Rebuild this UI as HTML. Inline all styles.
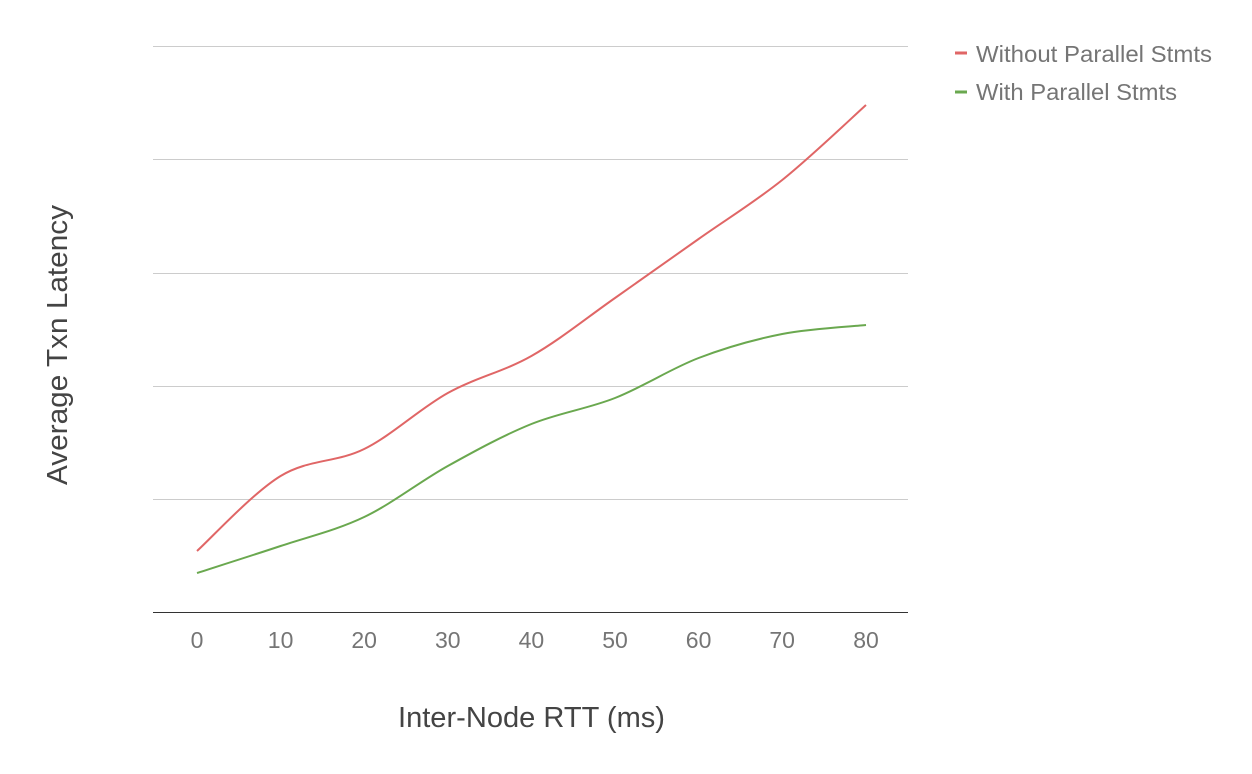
<!DOCTYPE html>
<html><head><meta charset="utf-8"><style>
html,body{margin:0;padding:0;background:#fff;width:1252px;height:774px;overflow:hidden}
svg{display:block}
text{font-family:"Liberation Sans",sans-serif}
</style></head><body>
<svg width="1252" height="774" viewBox="0 0 1252 774" xmlns="http://www.w3.org/2000/svg">
<rect width="1252" height="774" fill="#fff"/>
<g stroke="#cccccc" stroke-width="1">
<line x1="153" y1="46.5" x2="908" y2="46.5"/>
<line x1="153" y1="159.5" x2="908" y2="159.5"/>
<line x1="153" y1="273.5" x2="908" y2="273.5"/>
<line x1="153" y1="386.5" x2="908" y2="386.5"/>
<line x1="153" y1="499.5" x2="908" y2="499.5"/>
</g>
<line x1="153" y1="612.5" x2="908" y2="612.5" stroke="#333" stroke-width="1"/>
<path fill="none" stroke="#e06666" stroke-width="2" d="M197,551 C210.9,538.5 252.7,493 280.6,476 C308.5,459 336.3,462.8 364.2,449 C392.1,435.2 419.9,408.5 447.8,393 C475.7,377.5 503.5,371.8 531.4,356 C559.3,340.2 587.1,317.5 615,298 C642.9,278.5 670.7,258.7 698.6,239 C726.5,219.3 754.3,202.3 782.2,180 C810.1,157.7 852.1,117.5 866,105"/>
<path fill="none" stroke="#6aa84f" stroke-width="2" d="M197,573 C210.9,568.5 252.7,555.3 280.6,546 C308.5,536.7 336.3,530.3 364.2,517 C392.1,503.7 419.9,481.5 447.8,466 C475.7,450.5 503.5,435.3 531.4,424 C559.3,412.7 587.1,409 615,398 C642.9,387 670.7,368.7 698.6,358 C726.5,347.3 754.3,339.5 782.2,334 C810.1,328.5 852.1,326.5 866,325"/>
<g fill="#757575" font-size="23" text-anchor="middle">
<text x="197" y="648">0</text>
<text x="280.6" y="648">10</text>
<text x="364.2" y="648">20</text>
<text x="447.8" y="648">30</text>
<text x="531.4" y="648">40</text>
<text x="615" y="648">50</text>
<text x="698.6" y="648">60</text>
<text x="782.2" y="648">70</text>
<text x="866" y="648">80</text>
</g>
<text x="398" y="727" font-size="29" fill="#444" textLength="267" lengthAdjust="spacingAndGlyphs">Inter-Node RTT (ms)</text>
<text transform="translate(67,485) rotate(-90)" x="0" y="0" font-size="29" fill="#444" textLength="280" lengthAdjust="spacingAndGlyphs">Average Txn Latency</text>
<rect x="955" y="51.5" width="12" height="3" fill="#e06666"/>
<rect x="955" y="90.5" width="12" height="3" fill="#6aa84f"/>
<text x="976" y="62" font-size="23" fill="#757575" textLength="236" lengthAdjust="spacingAndGlyphs">Without Parallel Stmts</text>
<text x="976" y="100" font-size="23" fill="#757575" textLength="201" lengthAdjust="spacingAndGlyphs">With Parallel Stmts</text>
</svg>
</body></html>
